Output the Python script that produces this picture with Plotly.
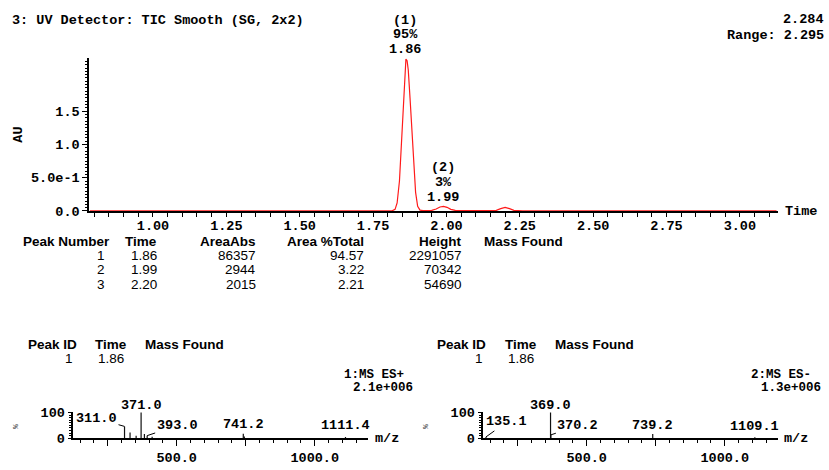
import plotly.graph_objects as go

W, H = 829, 470
MONO = "Liberation Mono"
SANS = "Liberation Sans"

# ---- UV chromatogram (time / min, absorbance / AU) ----
uv_time = [0.785, 1.00, 1.20, 1.40, 1.60, 1.78, 1.815, 1.825, 1.832, 1.840, 1.846,
           1.852, 1.858, 1.862, 1.866, 1.870, 1.876, 1.882, 1.888, 1.895, 1.902,
           1.910, 1.920, 1.935, 1.950, 1.965, 1.978, 1.990, 2.002, 2.015, 2.030,
           2.060, 2.120, 2.170, 2.185, 2.200, 2.215, 2.230, 2.260, 2.400, 2.700, 3.125]
uv_au = [0.0, 0.0, 0.0, 0.0, 0.0, 0.0, 0.002, 0.025, 0.12, 0.45, 0.95,
         1.55, 2.05, 2.284, 2.26, 2.12, 1.70, 1.20, 0.70, 0.28, 0.07,
         0.012, 0.005, 0.006, 0.008, 0.03, 0.06, 0.070, 0.055, 0.025, 0.008,
         0.004, 0.003, 0.01, 0.035, 0.055, 0.035, 0.01, 0.003, 0.0, 0.0, 0.0]
uv_range = 2.295

uv_xticks = [1.00, 1.25, 1.50, 1.75, 2.00, 2.25, 2.50, 2.75, 3.00]
uv_xtick_text = ["1.00", "1.25", "1.50", "1.75", "2.00", "2.25", "2.50", "2.75", "3.00"]
uv_yticks = [0.0, 0.5, 1.0, 1.5]
uv_ytick_text = ["0.0", "5.0e-1", "1.0", "1.5"]

# ---- peak table ----
peak_number = [1, 2, 3]
peak_time = [1.86, 1.99, 2.20]
area_abs = [86357, 2944, 2015]
area_pct = [94.57, 3.22, 2.21]
peak_height = [2291057, 70342, 54690]
labelled_peaks = [0, 1]

# ---- mass spectra at 1.86 min ----
ms1_mz = [311.0, 331.0, 353.0, 371.0, 383.0, 393.0, 411.0, 741.2, 745.0, 1111.4]
ms1_int = [46, 22, 10, 100, 16, 10, 6, 17, 7, 5]
ms1_labels = [311.0, 371.0, 393.0, 741.2, 1111.4]
ms2_mz = [135.1, 369.0, 370.2, 739.2, 1109.1]
ms2_int = [5, 100, 13, 16, 4]
ms2_labels = [135.1, 369.0, 370.2, 739.2, 1109.1]
ms_xticks = [250, 500, 750, 1000]
ms_xtick_text = ["", "500.0", "", "1000.0"]

# label offsets (pixels from the stick tip to the text centre); arrows for leader lines
ms1_offsets = {311.0: (-28, -8, True), 371.0: (0, -7, False), 393.0: (30, -10, True),
               741.2: (0, -9, False), 1111.4: (0, -11, False)}
ms2_offsets = {135.1: (21, -15, True), 369.0: (0, -7, False), 370.2: (27, -9, True),
               739.2: (0, -9, False), 1109.1: (0, -11, False)}

FS = 13.5  # monospaced label size


def px(x, y):
    return x / W, 1 - y / H


annotations = []


def text(x, y, s, size=FS, family=MONO, bold=True, xanchor="left", angle=0, color="black"):
    X, Y = px(x, y)
    annotations.append(dict(
        x=X, y=Y, xref="paper", yref="paper", text=s, showarrow=False,
        xanchor=xanchor, yanchor="middle", textangle=angle,
        font=dict(family=family, size=size, color=color,
                  weight="bold" if bold else "normal")))


def sticks(mz, inten):
    xs, ys = [], []
    for m, i in zip(mz, inten):
        xs += [m, m, None]
        ys += [0, i, None]
    return xs, ys


fig = go.Figure()

fig.add_trace(go.Scatter(x=uv_time, y=uv_au, mode="lines",
                         line=dict(color="#ff1a1a", width=1.2),
                         xaxis="x", yaxis="y", hoverinfo="skip"))

for k, (mz, inten, labels, offs) in enumerate(
        [(ms1_mz, ms1_int, ms1_labels, ms1_offsets),
         (ms2_mz, ms2_int, ms2_labels, ms2_offsets)]):
    xa, ya = ("x2", "y2") if k == 0 else ("x3", "y3")
    xs, ys = sticks(mz, inten)
    fig.add_trace(go.Scatter(x=xs, y=ys, mode="lines",
                             line=dict(color="#111111", width=1.2),
                             xaxis=xa, yaxis=ya, hoverinfo="skip"))
    for m in labels:
        i = inten[mz.index(m)]
        dx, dy, arrow = offs[m]
        ann = dict(x=m, y=i, xref=xa, yref=ya, text=f"{m:.1f}",
                   font=dict(family=MONO, size=FS, color="black", weight="bold"))
        if arrow:
            ann.update(showarrow=True, arrowhead=0, arrowwidth=1, arrowcolor="black",
                       ax=dx, ay=dy, standoff=0)
        else:
            ann.update(showarrow=False, xanchor="center", yanchor="middle",
                       xshift=dx, yshift=-dy)
        annotations.append(ann)

# peak labels on the chromatogram
for j in labelled_peaks:
    t = peak_time[j]
    h = peak_height[j] / 1e6
    lines = [f"{t:.2f}", f"{round(area_pct[j])}%", f"({peak_number[j]})"]
    for line, shift in zip(lines, [9, 24, 38.5]):
        annotations.append(dict(x=t, y=h, xref="x", yref="y", text=line, showarrow=False,
                                xanchor="center", yanchor="middle", yshift=shift,
                                font=dict(family=MONO, size=FS, color="black", weight="bold")))

# header texts
text(10, 15.7, "3: UV Detector: TIC Smooth (SG, 2x2)")
text(826, 15, f"{max(uv_au):.3f}", xanchor="right")
text(826, 31.7, f"Range: {uv_range:.3f}", xanchor="right")
text(18.3, 133.3, "AU", angle=-90, xanchor="center")
text(783, 212.7, "Time")

# peak table
cols_right = [106, 158.3, 257.3, 365, 463.3]
headers = ["Peak Number", "Time", "AreaAbs", "Area %Total", "Height"]
text(20.5, 244, headers[0], family=SANS, size=13.5)
for c, hdr in zip(cols_right[1:], headers[1:]):
    text(c + 1, 244, hdr, family=SANS, size=13.5, xanchor="right")
text(482, 244, "Mass Found", family=SANS, size=13.5)
row_y = [258.2, 273, 287.8]
for j in range(len(peak_number)):
    vals = [str(peak_number[j]), f"{peak_time[j]:.2f}", str(area_abs[j]),
            f"{area_pct[j]:.2f}", str(peak_height[j])]
    for c, v in zip(cols_right, vals):
        text(c + 1, row_y[j], v, family=SANS, size=13.5, bold=False, xanchor="right")

# spectrum headers
for x0, ion, scale, ion_x, sc_x in [(0, "1:MS ES+", "2.1e+006", 342, 350.5),
                                    (410, "2:MS ES-", "1.3e+006", 749, 759)]:
    text(x0 + 25.5, 350, "Peak ID", family=SANS, size=13.5)
    text(x0 + 93, 350, "Time", family=SANS, size=13.5)
    text(x0 + 143, 350, "Mass Found", family=SANS, size=13.5)
    text(x0 + 75, 364, "1", family=SANS, size=13.5, bold=False, xanchor="right")
    text(x0 + 126, 364, f"{peak_time[0]:.2f}", family=SANS, size=13.5, bold=False, xanchor="right")
    text(ion_x, 381.7, ion, size=12.5)
    text(sc_x, 395, scale, size=12.5)
    text(x0 + 15, 435, "%", size=8, angle=-90, bold=False, xanchor="center", color="#333")
text(373, 446.5, "m/z")
text(782, 446.5, "m/z")

axis_common = dict(showgrid=False, zeroline=False, showline=True, linecolor="black",
                   ticks="outside", tickcolor="black", tickwidth=1,
                   tickfont=dict(family=MONO, size=FS, color="black", weight="bold"))

fig.update_layout(
    width=W, height=H, autosize=False,
    margin=dict(l=0, r=0, t=0, b=0, pad=0),
    paper_bgcolor="white", plot_bgcolor="white",
    showlegend=False,
    annotations=annotations,
    xaxis=dict(**axis_common, domain=[89.3 / W, 778 / W], range=[0.783, 3.13],
               anchor="y", linewidth=2, tickmode="array", tickvals=uv_xticks,
               ticktext=uv_xtick_text, ticklen=4, ticklabelstandoff=-3,
               minor=dict(dtick=0.05, tick0=0, ticks="outside", ticklen=4,
                          tickcolor="black", showgrid=False)),
    yaxis=dict(**axis_common, domain=[1 - 212.3 / H, 1 - 55 / H], range=[0, uv_range],
               anchor="x", linewidth=2, tickmode="array", tickvals=uv_yticks,
               ticktext=uv_ytick_text, ticklen=5,
               minor=dict(dtick=0.05, tick0=0, ticks="outside", ticklen=2.5,
                          tickcolor="black", showgrid=False)),
    xaxis2=dict(**axis_common, domain=[73.3 / W, 368 / W], range=[125.4, 1193],
                anchor="y2", linewidth=1.5, tickmode="array", tickvals=ms_xticks,
                ticktext=ms_xtick_text, ticklen=6,
                minor=dict(dtick=50, tick0=0, ticks="outside", ticklen=3,
                           tickcolor="black", showgrid=False)),
    yaxis2=dict(**axis_common, domain=[1 - 446.5 / H, 1 - 419.3 / H], range=[0, 103],
                anchor="x2", linewidth=1.5, tickmode="array", tickvals=[0, 100],
                ticktext=["0", "100"], ticklen=4,
                minor=dict(dtick=10, tick0=0, ticks="outside", ticklen=2.5,
                           tickcolor="black", showgrid=False)),
    xaxis3=dict(**axis_common, domain=[483.3 / W, 778 / W], range=[125.4, 1193],
                anchor="y3", linewidth=1.5, tickmode="array", tickvals=ms_xticks,
                ticktext=ms_xtick_text, ticklen=6,
                minor=dict(dtick=50, tick0=0, ticks="outside", ticklen=3,
                           tickcolor="black", showgrid=False)),
    yaxis3=dict(**axis_common, domain=[1 - 446.5 / H, 1 - 419.3 / H], range=[0, 103],
                anchor="x3", linewidth=1.5, tickmode="array", tickvals=[0, 100],
                ticktext=["0", "100"], ticklen=4,
                minor=dict(dtick=10, tick0=0, ticks="outside", ticklen=2.5,
                           tickcolor="black", showgrid=False)),
)

fig.write_html("out.html", config={"displayModeBar": False})
